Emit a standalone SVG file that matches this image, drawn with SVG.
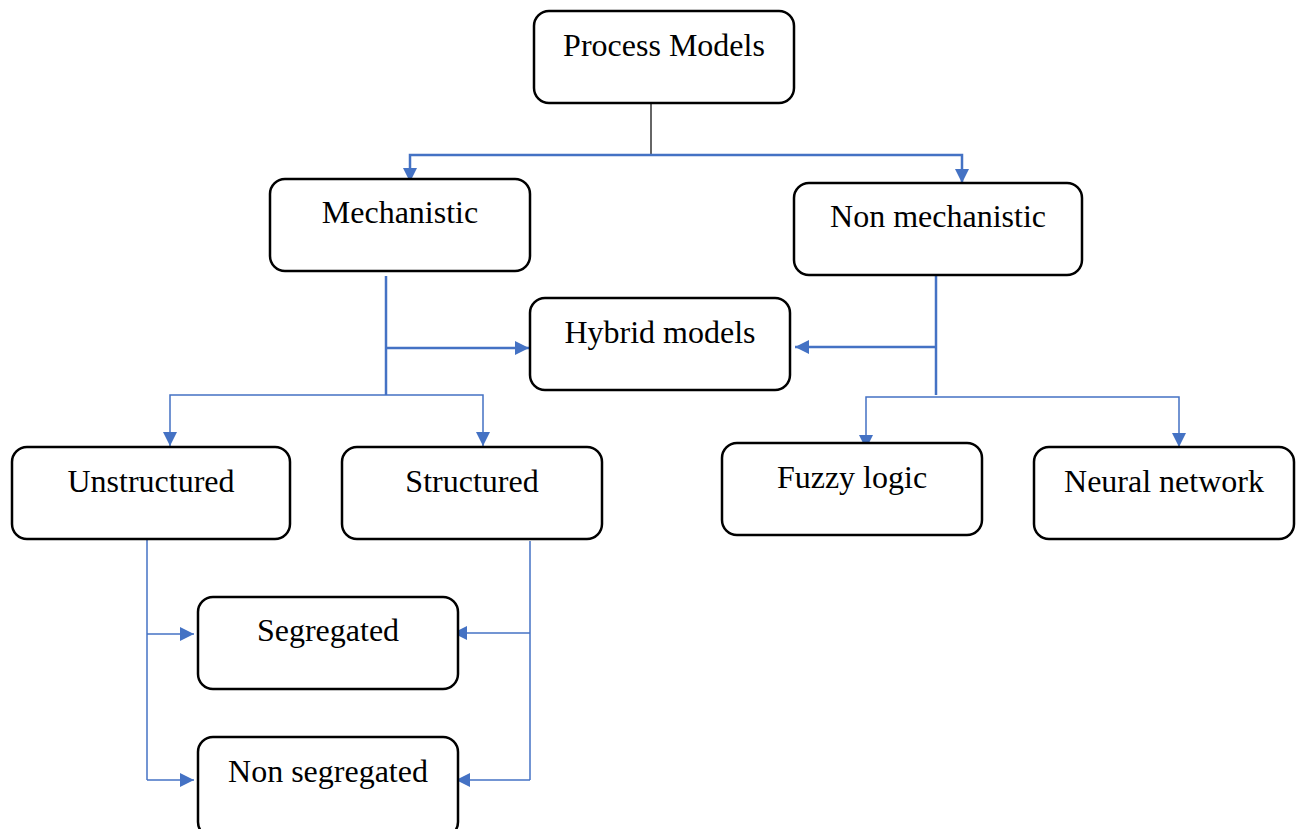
<svg xmlns="http://www.w3.org/2000/svg" width="1296" height="829" viewBox="0 0 1296 829">
<style>
.box{fill:#fff;stroke:#000;stroke-width:2.5}
.lbl{font-family:"Liberation Serif","Times New Roman",serif;font-size:32px;fill:#000;text-anchor:middle}
.c{fill:none;stroke:#4472C4;stroke-width:2.5}
.t{fill:none;stroke:#4472C4;stroke-width:1.5}
</style>
<defs>
<marker id="ah" markerUnits="userSpaceOnUse" markerWidth="16" markerHeight="16" refX="14" refY="7" orient="auto">
<path d="M0,0 L14,7 L0,14 Z" fill="#4472C4"/>
</marker>
</defs>
<rect width="1296" height="829" fill="#fff"/>
<g id="connectors">
<line x1="651" y1="103" x2="651" y2="155" stroke="#333" stroke-width="1.5"/>
<polyline class="c" points="651,155 410,155 410,182" marker-end="url(#ah)"/>
<polyline class="c" points="651,155 962,155 962,183" marker-end="url(#ah)"/>
<line class="c" x1="386" y1="276" x2="386" y2="395"/>
<line class="c" x1="386" y1="348" x2="529" y2="348" marker-end="url(#ah)"/>
<line class="c" x1="936" y1="276" x2="936" y2="395"/>
<line class="c" x1="936" y1="347" x2="795" y2="347" marker-end="url(#ah)"/>
<polyline class="t" points="386,395 170,395 170,446" marker-end="url(#ah)"/>
<polyline class="t" points="386,395 483,395 483,446" marker-end="url(#ah)"/>
<polyline class="t" points="936,397 866,397 866,449" marker-end="url(#ah)"/>
<polyline class="t" points="936,397 1179,397 1179,447" marker-end="url(#ah)"/>
<line class="t" x1="147" y1="539" x2="147" y2="780"/>
<line class="t" x1="147" y1="634" x2="194" y2="634" marker-end="url(#ah)"/>
<line class="t" x1="147" y1="780" x2="194" y2="780" marker-end="url(#ah)"/>
<line class="t" x1="530" y1="541" x2="530" y2="780"/>
<line class="t" x1="530" y1="633" x2="453" y2="633" marker-end="url(#ah)"/>
<line class="t" x1="530" y1="780" x2="456" y2="780" marker-end="url(#ah)"/>
</g>
<g id="process-models"><rect class="box" x="534" y="11" width="260" height="92" rx="15"/><text class="lbl" x="664" y="56">Process Models</text></g>
<g id="mechanistic"><rect class="box" x="270" y="179" width="260" height="92" rx="15"/><text class="lbl" x="400" y="223">Mechanistic</text></g>
<g id="non-mechanistic"><rect class="box" x="794" y="183" width="288" height="92" rx="15"/><text class="lbl" x="938" y="227">Non mechanistic</text></g>
<g id="hybrid-models"><rect class="box" x="530" y="298" width="260" height="92" rx="15"/><text class="lbl" x="660" y="343">Hybrid models</text></g>
<g id="unstructured"><rect class="box" x="12" y="447" width="278" height="92" rx="15"/><text class="lbl" x="151" y="492">Unstructured</text></g>
<g id="structured"><rect class="box" x="342" y="447" width="260" height="92" rx="15"/><text class="lbl" x="472" y="492">Structured</text></g>
<g id="fuzzy-logic"><rect class="box" x="722" y="443" width="260" height="92" rx="15"/><text class="lbl" x="852" y="488">Fuzzy logic</text></g>
<g id="neural-network"><rect class="box" x="1034" y="447" width="260" height="92" rx="15"/><text class="lbl" x="1164" y="492">Neural network</text></g>
<g id="segregated"><rect class="box" x="198" y="597" width="260" height="92" rx="15"/><text class="lbl" x="328" y="641">Segregated</text></g>
<g id="non-segregated"><rect class="box" x="198" y="737" width="260" height="100" rx="15"/><text class="lbl" x="328" y="782">Non segregated</text></g>
</svg>
